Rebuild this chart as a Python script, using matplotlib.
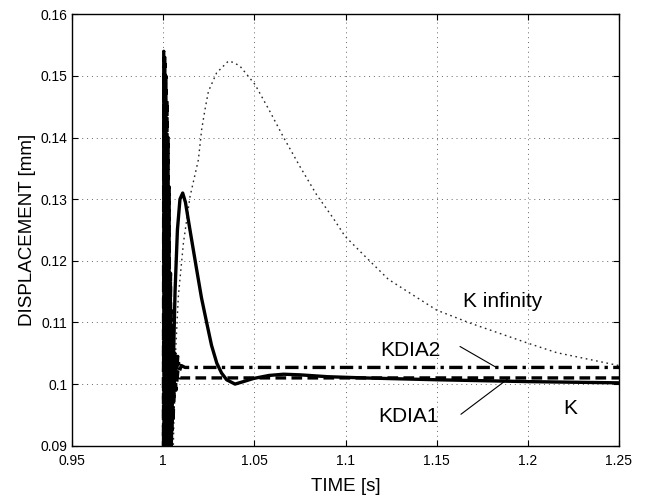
import matplotlib
matplotlib.use("Agg")
import matplotlib.pyplot as plt

plt.rcParams['font.family'] = ['Liberation Sans', 'DejaVu Sans']

# K (solid)
k_t = [1.0040, 1.0050, 1.0058, 1.0065, 1.0078, 1.0092, 1.0107, 1.0122, 1.0147,
       1.0184, 1.0210, 1.0239, 1.0265, 1.0294, 1.0320, 1.0348, 1.0394, 1.0440,
       1.0494, 1.0580, 1.0660, 1.0750, 1.0900, 1.1100, 1.1500, 1.2000, 1.2500]
k_y = [0.0850, 0.0970, 0.1060, 0.1150, 0.1250, 0.1300, 0.1310, 0.1295, 0.1250,
       0.1185, 0.1140, 0.1099, 0.1063, 0.1034, 0.1018, 0.1007, 0.1000, 0.1004,
       0.1009, 0.1014, 0.1016, 0.1015, 0.1012, 0.1010, 0.1007, 0.1004, 0.1002]

# K infinity (dotted)
kinf_t = [1.0050, 1.0056, 1.0065, 1.0083, 1.0111, 1.0147, 1.0193, 1.0211, 1.0229,
          1.0248, 1.0293, 1.0357, 1.0385, 1.0421, 1.0504, 1.0586, 1.0659, 1.0750,
          1.0842, 1.0933, 1.0997, 1.1098, 1.1235, 1.1500, 1.1683, 1.1994, 1.2158,
          1.2500]
kinf_y = [0.0850, 0.0904, 0.1034, 0.1142, 0.1229, 0.1304, 0.1364, 0.1413, 0.1445,
          0.1475, 0.1505, 0.1524, 0.1522, 0.1516, 0.1486, 0.1442, 0.1401, 0.1353,
          0.1307, 0.1269, 0.1240, 0.1210, 0.1170, 0.1120, 0.1099, 0.1067, 0.1051,
          0.1030]

# KDIA1 (dashed)
kdia1_t = [1.0000, 1.0003, 1.0006, 1.0009, 1.0012, 1.0015, 1.0018, 1.0021, 1.0024,
           1.0027, 1.0030, 1.0033, 1.0036, 1.0040, 1.0044, 1.0049, 1.0055, 1.0062,
           1.0070, 1.0080, 1.0092, 1.0500, 1.1000, 1.1500, 1.2000, 1.2500]
kdia1_y = [0.030, 0.154, 0.040, 0.153, 0.050, 0.150, 0.060, 0.146, 0.070,
           0.140, 0.075, 0.132, 0.080, 0.118, 0.086, 0.110, 0.094, 0.105,
           0.099, 0.1020, 0.1010, 0.1010, 0.1010, 0.1010, 0.1010, 0.1010]

# KDIA2 (dash-dot)
kdia2_t = [1.0000, 1.0004, 1.0008, 1.0012, 1.0016, 1.0020, 1.0024, 1.0028, 1.0032,
           1.0036, 1.0040, 1.0044, 1.0048, 1.0053, 1.0058, 1.0064, 1.0072, 1.0080,
           1.0090, 1.0100, 1.0120, 1.0500, 1.1000, 1.1500, 1.2000, 1.2500]
kdia2_y = [0.040, 0.150, 0.060, 0.145, 0.070, 0.135, 0.075, 0.125, 0.080,
           0.117, 0.085, 0.112, 0.092, 0.108, 0.097, 0.1050, 0.1010, 0.1045,
           0.1022, 0.1030, 0.1027, 0.1027, 0.1027, 0.1027, 0.1027, 0.1027]

x_ticks = [0.95, 1.0, 1.05, 1.1, 1.15, 1.2, 1.25]
x_tick_labels = ['0.95', '1', '1.05', '1.1', '1.15', '1.2', '1.25']
y_ticks = [0.09, 0.1, 0.11, 0.12, 0.13, 0.14, 0.15, 0.16]
y_tick_labels = ['0.09', '0.1', '0.11', '0.12', '0.13', '0.14', '0.15', '0.16']

fig = plt.figure(figsize=(6.46, 4.99), dpi=100)
ax = fig.add_axes([0.1115, 0.1068, 0.8467, 0.8645])

ax.plot(kinf_t, kinf_y, color='0.15', lw=1.0, linestyle=(0, (1.2, 2.6)))
ax.plot(kdia1_t, kdia1_y, color='black', lw=2.4, linestyle=(0, (3.2, 1.6)))
ax.plot(kdia2_t, kdia2_y, color='black', lw=2.4, linestyle=(0, (4, 1.6, 1, 1.6)))
ax.plot(k_t, k_y, color='black', lw=2.4, solid_capstyle='butt')

ax.set_xlim(0.95, 1.25)
ax.set_ylim(0.09, 0.16)
ax.set_xticks(x_ticks)
ax.set_xticklabels(x_tick_labels)
ax.set_yticks(y_ticks)
ax.set_yticklabels(y_tick_labels)
ax.tick_params(direction='in', length=4, labelsize=10, top=True, right=True, width=0.8)
ax.tick_params(axis='x', pad=6)
ax.grid(True, color='0.4', lw=0.7, linestyle=(0, (1, 4)))
for s in ax.spines.values():
    s.set_linewidth(1.0)

ax.set_xlabel('TIME [s]', fontsize=13.5, labelpad=7)
ax.set_ylabel('DISPLACEMENT [mm]', fontsize=13.5, labelpad=3)

ax.text(1.1645, 0.1134, 'K infinity', fontsize=15, va='center', ha='left')
ax.text(1.119, 0.1055, 'KDIA2', fontsize=15, va='center', ha='left')
ax.text(1.1178, 0.0947, 'KDIA1', fontsize=15, va='center', ha='left')
ax.text(1.2193, 0.0960, 'K', fontsize=15, va='center', ha='left')

ax.annotate('', xy=(1.1829, 0.10267), xytext=(1.1628, 0.1061),
            arrowprops=dict(arrowstyle='-', lw=0.8, color='black', shrinkA=0, shrinkB=0))
ax.annotate('', xy=(1.1893, 0.1009), xytext=(1.1633, 0.0951),
            arrowprops=dict(arrowstyle='-', lw=0.8, color='black', shrinkA=0, shrinkB=0))

fig.savefig('out.png', dpi=100)
